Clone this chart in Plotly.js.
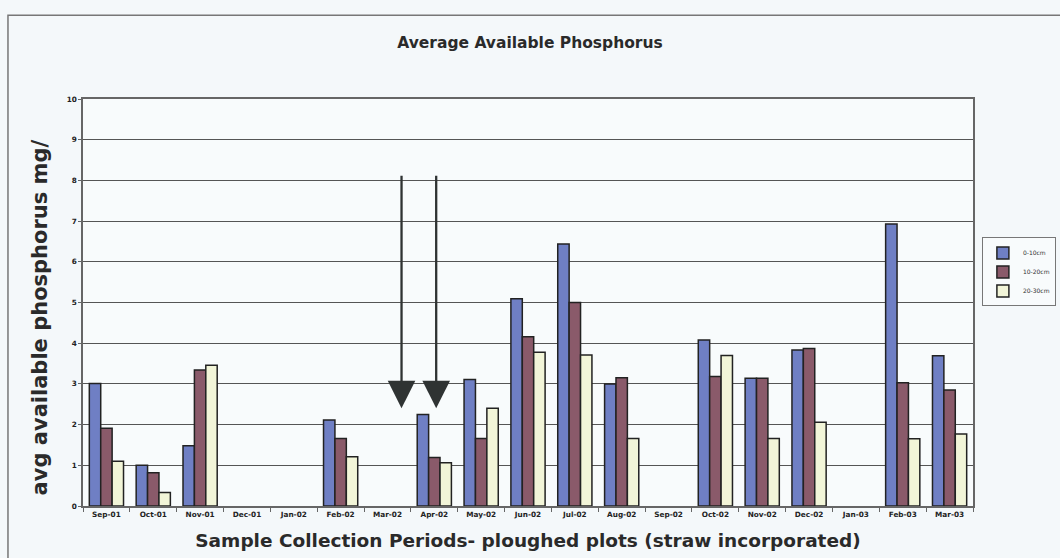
<!DOCTYPE html>
<html>
<head>
<meta charset="utf-8">
<script src="https://cdn.plot.ly/plotly-3.0.1.min.js"></script>
<style>html,body{margin:0;padding:0;background:#f4f8fa;}#chart{width:1060px;height:558px;}</style>
</head>
<body>
<div id="chart"></div>
<script>
const categories = ["Sep-01","Oct-01","Nov-01","Dec-01","Jan-02","Feb-02","Mar-02","Apr-02","May-02","Jun-02","Jul-02","Aug-02","Sep-02","Oct-02","Nov-02","Dec-02","Jan-03","Feb-03","Mar-03"];
const depth0to10 = [3.01,1.0,1.48,null,null,2.11,null,2.25,3.11,5.09,6.44,3.0,null,4.08,3.14,3.83,null,6.93,3.69];
const depth10to20 = [1.91,0.82,3.34,null,null,1.66,null,1.19,1.66,4.16,5.0,3.15,null,3.18,3.14,3.87,null,3.03,2.85];
const depth20to30 = [1.1,0.33,3.46,null,null,1.21,null,1.06,2.4,3.78,3.71,1.66,null,3.7,1.66,2.06,null,1.65,1.77];
const seriesNames = ["0-10cm","10-20cm","20-30cm"];
const yTitle = 'avg available phosphorus mg/';
const arrowX = [6.3, 7.04];
const arrowTop = 8.15;
const arrowTip = 2.4;

const colors = ["#6f7fc4","#8a5a6a","#f2f5d8"];
const allSeries = [depth0to10, depth10to20, depth20to30];
const traces = allSeries.map((vals,i)=>({
  type:'bar', x:categories, y:vals, name:seriesNames[i],
  marker:{color:colors[i], line:{color:'#222', width:1.5}}
}));

const annotations = arrowX.map(x=>({
  x:x, y:arrowTip, ax:x, ay:arrowTop, xref:'x', yref:'y', axref:'x', ayref:'y',
  text:'', showarrow:true, arrowhead:2, arrowsize:2.4, arrowwidth:2.3, arrowcolor:'#2f3333'
}));
annotations.push({text:yTitle, xref:'paper', yref:'paper', x:-0.048, y:0.464,
  xanchor:'center', yanchor:'middle', textangle:-90, showarrow:false,
  font:{family:'DejaVu Sans', size:21, weight:'bold', color:'#2a2a2a'}});

const layout = {
  width:1060, height:558,
  paper_bgcolor:'#f4f8fa', plot_bgcolor:'#f8fbfc',
  margin:{l:83, r:87, t:99, b:52, autoexpand:false},
  title:{text:'Average Available Phosphorus', x:0.5, xanchor:'center', y:0.923, yanchor:'middle',
    font:{family:'DejaVu Sans', size:15.5, weight:'bold', color:'#2a2a2a'}},
  barmode:'group', bargap:0.27, bargroupgap:0,
  xaxis:{type:'category', showline:true, linecolor:'#666', linewidth:1.5, mirror:true,
    ticks:'outside', ticklen:4, tickcolor:'#666', tickson:'boundaries',
    tickfont:{family:'DejaVu Sans', size:7.3, weight:'bold', color:'#222'},
    tickangle:0, automargin:false,
    title:{text:'Sample Collection Periods- ploughed plots (straw incorporated)', standoff:17,
      font:{family:'DejaVu Sans', size:18.5, weight:'bold', color:'#2a2a2a'}}},
  yaxis:{range:[0,10], dtick:1, showline:true, linecolor:'#666', linewidth:1.5, mirror:true,
    showgrid:true, gridcolor:'#555', gridwidth:1.3, zeroline:false,
    ticks:'outside', ticklen:3, tickcolor:'#666', automargin:false,
    tickfont:{family:'DejaVu Sans', size:7.3, weight:'bold', color:'#222'}},
  legend:{x:1.01, y:0.575, xanchor:'left', yanchor:'middle', bgcolor:'#f8fbfc',
    bordercolor:'#777', borderwidth:1, font:{family:'DejaVu Sans', size:6, color:'#333'},
    itemwidth:30, tracegroupgap:0},
  annotations:annotations,
  shapes:[{type:'rect', xref:'paper', yref:'paper', x0:-0.0843, x1:1.12, y0:-0.2, y1:1.206,
    line:{color:'#777', width:1.5}, fillcolor:'rgba(0,0,0,0)', layer:'below'}],
  showlegend:true
};

Plotly.newPlot('chart', traces, layout, {displayModeBar:false});
</script>
</body>
</html>
